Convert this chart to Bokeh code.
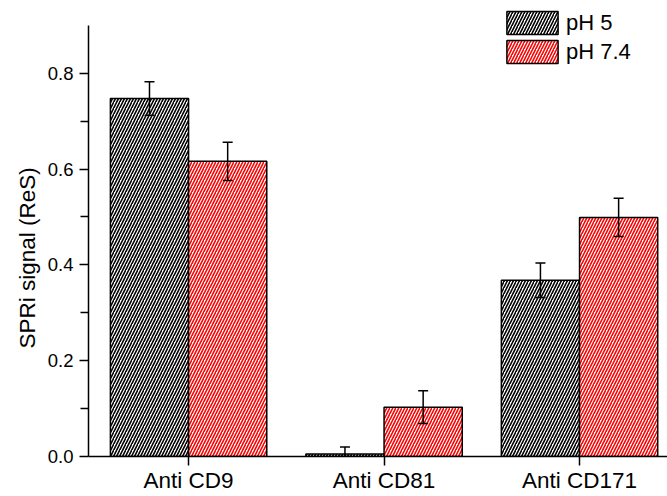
from bokeh.plotting import figure
from bokeh.models import (ColumnDataSource, FixedTicker, Whisker, TeeHead, Legend,
                          LegendItem, Title, NumeralTickFormatter)
from bokeh.embed import file_html
from bokeh.resources import INLINE

categories = ["Anti CD9", "Anti CD81", "Anti CD171"]
series = ["pH 5", "pH 7.4"]
ph5_values = [0.747, 0.005, 0.368]
ph5_errors = [0.035, 0.015, 0.036]
ph74_values = [0.616, 0.103, 0.499]
ph74_errors = [0.040, 0.034, 0.040]
y_ticks = [0.0, 0.2, 0.4, 0.6, 0.8]
y_minor = [0.1, 0.3, 0.5, 0.7]

FONT = "Liberation Sans"
xs = [i + 1 for i in range(len(categories))]
off = 0.2
width = 0.4

p = figure(width=667, height=496, output_backend="svg", toolbar_location=None,
           x_range=(0.488, 3.45), y_range=(0, 0.935),
           min_border_left=88, min_border_right=0, min_border_top=8, min_border_bottom=40)
p.outline_line_color = None
p.grid.visible = False
p.background_fill_color = "white"

def make_src(vals, errs, shift):
    return ColumnDataSource(dict(
        x=[x + shift for x in xs], top=vals,
        upper=[v + e for v, e in zip(vals, errs)],
        lower=[max(0.0, v - e) for v, e in zip(vals, errs)]))

s1 = make_src(ph5_values, ph5_errors, -off)
s2 = make_src(ph74_values, ph74_errors, off)

r1 = p.vbar(x="x", top="top", width=width, bottom=0, source=s1, fill_color="white",
            line_color="black", line_width=1.5, hatch_pattern="/", hatch_color="black",
            hatch_scale=6, hatch_weight=1.6)
r2 = p.vbar(x="x", top="top", width=width, bottom=0, source=s2, fill_color="white",
            line_color="black", line_width=1.5, hatch_pattern="/", hatch_color="red",
            hatch_scale=6, hatch_weight=1.6)

for s in (s1, s2):
    w = Whisker(base="x", upper="upper", lower="lower", source=s, line_width=1.5,
                line_color="black", level="overlay",
                upper_head=TeeHead(size=10, line_width=1.5, line_color="black"),
                lower_head=TeeHead(size=10, line_width=1.5, line_color="black"))
    p.add_layout(w)

# x axis
xa = p.xaxis[0]
xa.ticker = FixedTicker(ticks=xs, minor_ticks=[])
xa.major_label_overrides = {x: c for x, c in zip(xs, categories)}
xa.major_tick_out = 9
xa.major_tick_in = 0
xa.minor_tick_out = 0
xa.axis_line_width = 1.5
xa.major_tick_line_width = 1.5
xa.major_label_text_font = FONT
xa.major_label_text_font_size = "22.5px"
xa.major_label_text_color = "black"
xa.major_label_standoff = 2

# y axis
ya = p.yaxis[0]
ya.ticker = FixedTicker(ticks=y_ticks, minor_ticks=y_minor)
ya.formatter = NumeralTickFormatter(format="0.0")
ya.bounds = (0, 0.9)
ya.major_tick_out = 9
ya.major_tick_in = 0
ya.minor_tick_out = 8
ya.minor_tick_in = 0
ya.axis_line_width = 1.5
ya.major_tick_line_width = 1.5
ya.minor_tick_line_width = 1.5
ya.major_label_text_font = FONT
ya.major_label_text_font_size = "18.5px"
ya.major_label_text_color = "black"
ya.major_label_standoff = 6

ytitle = Title(text="SPRi signal (ReS)", align="left", offset=108, standoff=10,
               text_font=FONT, text_font_size="22.5px", text_font_style="normal",
               text_color="black")
p.add_layout(ytitle, "left")

legend = Legend(items=[LegendItem(label=series[0], renderers=[r1]),
                       LegendItem(label=series[1], renderers=[r2])],
                location=(412, 390), orientation="vertical",
                glyph_width=64, glyph_height=29, label_text_font=FONT,
                label_text_font_size="22px", label_text_color="black",
                label_standoff=2, spacing=0,
                padding=0, margin=0, border_line_color=None,
                background_fill_alpha=0)
p.add_layout(legend)

open("out.html", "w").write(file_html(p, INLINE))
